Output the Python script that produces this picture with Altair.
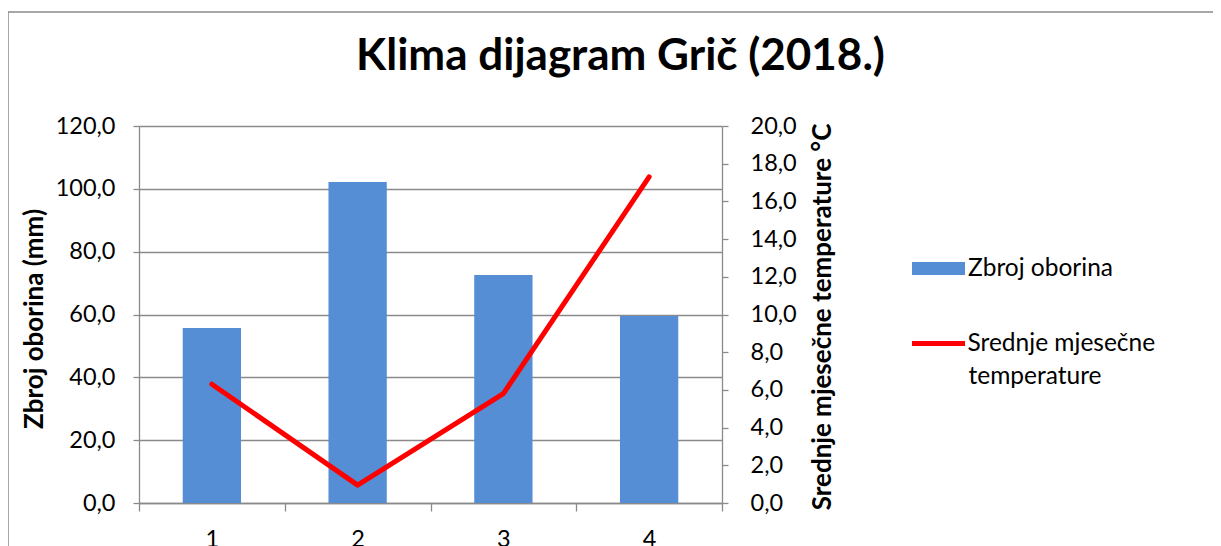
import altair as alt
import pandas as pd

# ---- data ----
months = ["1", "2", "3", "4"]
precip = [55.7, 102.2, 72.6, 59.5]        # Zbroj oborina (mm)
temp = [6.3, 0.95, 5.8, 17.3]             # Srednje mjesečne temperature (°C)
left_ticks = [0, 20, 40, 60, 80, 100, 120]
right_ticks = [0, 2, 4, 6, 8, 10, 12, 14, 16, 18, 20]
series_bar = "Zbroj oborina"
series_line = "Srednje mjesečne temperature"
line_label_1 = "Srednje mjesečne"
line_label_2 = "temperature"

df = pd.DataFrame({"mjesec": months, "oborine": precip, "temp": temp})

FONT = "Lato"
GRAY = "#8a8a8a"
W, H = 583, 377
LBL = "replace(format(datum.value, '.1f'), '.', ',')"
TICK_FS = 23.5
TITLE_FS = 26
LEG_FS = 24.5

x_enc = alt.X(
    "mjesec:N", sort=months,
    scale=alt.Scale(paddingInner=0, paddingOuter=0),
    axis=alt.Axis(title=None, tickBand="extent", labelAngle=0, tickSize=8,
                  labelPadding=16, labelFontSize=TICK_FS, labelFont=FONT,
                  labelColor="black", domainColor=GRAY, tickColor=GRAY,
                  domainWidth=1.3, tickWidth=1.3, grid=False),
)

border = alt.Chart(pd.DataFrame({"a": [0]})).mark_rect(
    fill=None, stroke=GRAY, strokeWidth=1.5
).encode(
    x=alt.value(-131), x2=alt.value(W + 700),
    y=alt.value(-114), y2=alt.value(H + 200),
)

bars = alt.Chart(df).transform_calculate(serija=f"'{series_bar}'").mark_bar(
    width=alt.RelativeBandSize(0.4)
).encode(
    x=x_enc,
    y=alt.Y("oborine:Q", scale=alt.Scale(domain=[0, 120], nice=False),
            axis=alt.Axis(orient="left", values=left_ticks, labelExpr=LBL,
                          title="Zbroj oborina (mm)", titleFont=FONT,
                          titleFontSize=TITLE_FS, titleFontWeight="bold",
                          titleColor="black", titleX=-105, titleY=H / 2 + 4,
                          titleAngle=-90, titleAlign="center",
                          titleBaseline="middle",
                          labelFont=FONT, labelFontSize=TICK_FS,
                          labelColor="black",
                          labelPadding=18, tickSize=6, tickColor=GRAY,
                          tickWidth=1.3, domainColor=GRAY, domainWidth=1.3,
                          grid=True, gridColor=GRAY, gridWidth=1.3)),
    fill=alt.Fill("serija:N",
                  scale=alt.Scale(domain=[series_bar], range=["#558ED5"]),
                  legend=alt.Legend(title=None, orient="none", legendX=773,
                                    legendY=116,
                                    symbolType="M-1,-0.245L1,-0.245L1,0.245L-1,0.245Z",
                                    symbolSize=2809, symbolStrokeWidth=0,
                                    labelFont=FONT, labelFontSize=LEG_FS,
                                    labelColor="black", labelOffset=3,
                                    labelLimit=400)),
)

line = alt.Chart(df).transform_calculate(serija2=f"'{series_line}'").mark_line(
    strokeWidth=5, strokeCap="round", strokeJoin="round"
).encode(
    x=x_enc,
    y=alt.Y("temp:Q", scale=alt.Scale(domain=[0, 20], nice=False),
            axis=alt.Axis(orient="right", values=right_ticks, labelExpr=LBL,
                          title="Srednje mjesečne temperature °C",
                          titleFont=FONT, titleFontSize=TITLE_FS,
                          titleFontWeight="bold", titleColor="black",
                          titleX=100, titleY=H / 2 + 2, titleAngle=-90,
                          titleAlign="center", titleBaseline="middle",
                          labelFont=FONT, labelFontSize=TICK_FS,
                          labelColor="black",
                          labelPadding=22, tickSize=6, tickColor=GRAY,
                          tickWidth=1.3, domainColor=GRAY, domainWidth=1.3,
                          grid=False)),
    stroke=alt.Stroke("serija2:N",
                      scale=alt.Scale(domain=[series_line], range=["#FF0000"]),
                      legend=alt.Legend(title=None, orient="none", legendX=770.5,
                                        legendY=188.5,
                                        symbolType="stroke", symbolSize=2809,
                                        symbolStrokeWidth=5,
                                        labelFont=FONT, labelFontSize=LEG_FS,
                                        labelColor="black", labelOffset=0,
                                        labelLimit=400,
                                        labelExpr=f"'{line_label_1}'")),
)

# second line of the wrapped legend label
legend_cont = alt.Chart(pd.DataFrame({"t": [line_label_2]})).mark_text(
    font=FONT, fontSize=LEG_FS, color="black", align="left", baseline="middle"
).encode(text="t:N", x=alt.value(829.5), y=alt.value(251))

chart = alt.layer(border, bars, line, legend_cont).resolve_scale(
    y="independent", fill="independent", stroke="independent"
).properties(
    width=W, height=H,
    autosize=alt.AutoSizeParams(type="none"),
    padding={"left": 131, "top": 118, "right": 491, "bottom": 43},
    title=alt.TitleParams("Klima dijagram Grič (2018.)", font=FONT,
                          fontSize=44, fontWeight="bold", color="black",
                          anchor="middle", frame="group", dx=190,
                          baseline="alphabetic", offset=-103),
).configure_view(stroke=None)

chart.save("out.html", embed_options={"renderer": "svg", "actions": False})
